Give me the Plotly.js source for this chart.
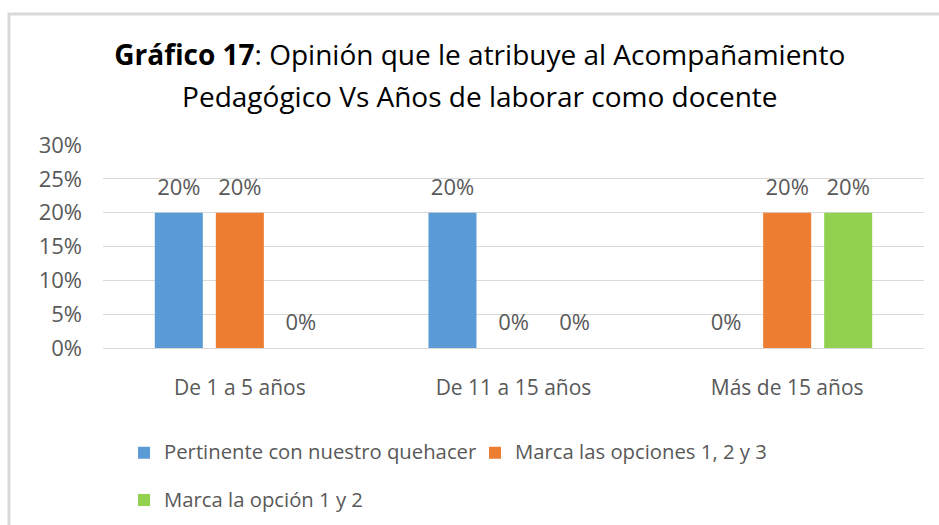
<!DOCTYPE html>
<html><head><meta charset="utf-8">
<script src="https://cdn.plot.ly/plotly-3.0.1.min.js"></script>
<style>html,body{margin:0;padding:0;background:#fff;}#chart{width:939px;height:525px;}</style>
</head><body><div id="chart"></div>
<script>
const categories = ['De 1 a 5 años', 'De 11 a 15 años', 'Más de 15 años'];
const seriesNames = ['Pertinente con nuestro quehacer', 'Marca las opciones 1, 2 y 3', 'Marca la opción 1 y 2'];
const pertinente = [0.20, 0.20, 0.00];
const opciones123 = [0.20, 0.00, 0.20];
const opcion12 = [0.00, 0.00, 0.20];
const yTickVals = [0, 0.05, 0.10, 0.15, 0.20, 0.25, 0.30];
const yTickText = ['0%', '5%', '10%', '15%', '20%', '25%', '30%'];
const colors = ['#5B9BD5', '#ED7D31', '#92D050'];
const titleLine1 = '<b>Gráfico 17</b>: Opinión que le atribuye al Acompañamiento';
const titleLine2 = 'Pedagógico Vs Años de laborar como docente';

const FONT = '"Open Sans", "Noto Sans", sans-serif';
const TXT = '#595959';
const values = [pertinente, opciones123, opcion12];

const traces = values.map((v, i) => ({
  type: 'bar',
  x: categories,
  y: v,
  name: '<span style="font-size:20.3px">' + seriesNames[i] + '</span><br> ',
  marker: {color: colors[i]},
  texttemplate: '<span style="font-size:22px">%{y:.0%}</span><br> ',
  textposition: 'outside',
  constraintext: 'none',
  cliponaxis: false,
  textfont: {family: FONT, size: 9, color: TXT},
  hoverinfo: 'skip'
}));

const layout = {
  width: 939, height: 525,
  margin: {l: 103, r: 15, t: 145, b: 177, autoexpand: false},
  paper_bgcolor: '#fff', plot_bgcolor: '#fff',
  font: {family: FONT, color: TXT, size: 20},
  title: {
    text: '<span style="font-size:28px">' + titleLine1 + '</span><br><span style="font-size:28px">' + titleLine2 + '</span>',
    font: {family: FONT, size: 32, color: '#000'},
    x: 0.511, xanchor: 'center', y: 0.876, yanchor: 'top'
  },
  barmode: 'group',
  bargap: 0.331,
  bargroupgap: 0.213,
  xaxis: {
    type: 'category', showgrid: false, zeroline: false,
    showline: true, linecolor: '#D9D9D9', linewidth: 1,
    ticks: '', ticklabelstandoff: 21,
    tickfont: {family: FONT, size: 21, color: TXT}
  },
  yaxis: {
    range: [0, 0.30], tickvals: yTickVals, ticktext: yTickText,
    showgrid: true, gridcolor: '#D9D9D9', gridwidth: 1,
    zeroline: false, showline: false, ticks: '',
    ticklabelstandoff: 20,
    tickfont: {family: FONT, size: 22, color: TXT}
  },
  showlegend: true,
  legend: {
    orientation: 'h', x: 0.0256, xanchor: 'left', y: -0.43, yanchor: 'top',
    valign: 'top', entrywidth: 306, entrywidthmode: 'pixels',
    bgcolor: 'rgba(0,0,0,0)',
    font: {family: FONT, size: 17, color: TXT}
  },
  shapes: [{
    type: 'rect', xref: 'paper', yref: 'paper',
    x0: -0.1145, x1: 1.05, y0: -1.1, y1: 1.645,
    line: {color: '#D9D9D9', width: 3}, fillcolor: 'rgba(0,0,0,0)', layer: 'below'
  }]
};

Plotly.newPlot('chart', traces, layout, {displayModeBar: false, staticPlot: true});
</script></body></html>
